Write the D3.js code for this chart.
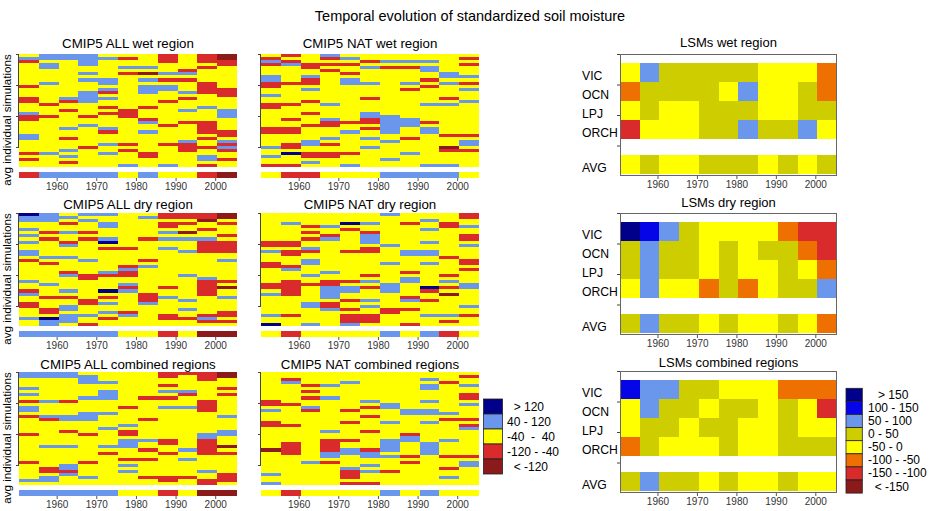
<!DOCTYPE html>
<html>
<head>
<meta charset="utf-8">
<script src="https://cdn.jsdelivr.net/npm/d3@7"></script>
<style>
body { margin: 0; background: #fff; }
svg text { font-family: "Liberation Sans", Arial, Helvetica, sans-serif; }
</style>
</head>
<body>
<svg id="chart" width="931" height="511"></svg>
<script>
// 5-year periods (1951-1955 ... 2001-2005)
var periodStarts = [1951, 1956, 1961, 1966, 1971, 1976, 1981, 1986, 1991, 1996, 2001];
var yearTicks = [1960, 1970, 1980, 1990, 2000];

// CMIP5 classes: D >120, B 40..120, Y -40..40, R -120..-40, M < -120
// one string per period, one letter per simulation (top to bottom)
var allWet = [
    "YBRYYYYYYY RYYYRRYYYB RRYYYYBBYY YYRYRYY",
    "BBYBBYYYYB YYYYYYRYYY RYYYYYYYYY YYBYYYY",
    "BBYYYYYYYY YYYYBRYYRY YYYYBYYRYY YBYBYRY",
    "BBBBYYBYBY YYBBBBYYYY RYYBYYYYYY RYYYYYY",
    "YBYYYYYYBB YBRYBYYRYR YYYYBRYYYB YYBYYYY",
    "YRYYBYRYYY YYYYYYYYRR RYYYYYYYYR YRYYYYB",
    "YYYYBYMYBY BBBYYYYRYY YRBYYBYYYY YYRRYYY",
    "RRRYYYBYRY BBYYYRYYYY YYYRYYYYYR YYYYYYB",
    "YYYYYRBYRY YYBYRYYYBY YYRYYYYYBR RRYYYYY",
    "RRRYRYYYYR RRRYYYYBYY YYRRRRYRYY RYYBBYR",
    "MMRRYYYYYY YRRRYYYYBB BYYYYRRYBR BRYYRYY"
];
var allWetAvg = "RBBBBYBYYRM";

var natWet = [
    "YRBRYYYBBR RYYBYYRRYY YYYYRRYYYY BYYBYYR",
    "RYRBYYYYYR YYYYYYRYYY YRYYRRYYYR RYDYYYR",
    "YYYRRYYBRR YBYYYRYYYR YYYRYYYYBB YYRRYBY",
    "BRYRYRYYYY YYYYYYBYYY YBRRYYYBYR YYRRYYY",
    "YBYRYYRYBB YYYYYYYYYY YYRYYBYYYY YYRYYYB",
    "YYRYBYYYYB YYYYRYYYYB BRRYRYYBYY BYYYYYY",
    "YYBYRYYYYY YYYYYYYYYY BBBBBBYYBY YYYYBYY",
    "YYBYRYYYYB YRYYYYYYYY YBBBYYYRYY YYBYYYY",
    "YYBYBBYYRY RYYYYYBYYY YYRYBBYYYY YYYYYYB",
    "YYYYYYBBYB YYYYRYBYYY YYYYYYRYYY MRYYYYB",
    "YRYRYYYBYR YBYYYBYYYY YYYYYYRYBB YRYYYYY"
];
var natWetAvg = "YRRYYYBBBBY";

var allDry = [
    "DBBYYBYBYB YYBBYRYYYY YYBYYRBYYR RYYYBYY",
    "BBBYYYRYRY YYYYBYRYYY YYYBYYYRYY YRRYDBB",
    "YBYRYYBYYR BYYYBYYYYR BYYYYBYRYY BBYBBBY",
    "BYBYYYRYRY YYYYYBYYYY RRYYYYYYRR YYYBYYR",
    "BYYBBYYYBD YRYYYYYYYB RYYYYDYRYB YYBYRYY",
    "YYYYYYYYYY YRYYYYYRBR RYYBRBYYYY YYRBYYY",
    "YBYYYYYYRY YYYYYRYBYY YYYYYYRRRB YYYYYYY",
    "RRYRRYBYBY YBYYYYYYYY YYYYRYYBYY YYYRRYY",
    "RRYRYYMYBY YYBYYYYYYY BYYYYYYYBY YBYYRYY",
    "RRMYYRYYBR RRRYYYYYYY YBRRRRRYYY YYYRBRY",
    "MMYRYYYRYR RRRYYBYYYY YYRYMYYBYY YYRRYRY"
];
var allDryAvg = "BBBBBYYRYMM";

var natDry = [
    "YYYYYYYYYR RYBYYYRRYY YYYRRYBYYY YYYBYYD",
    "YYYBYYYYYR RYRRYYYRBY YYRRRRRYYY YYYRYYY",
    "YYYYRYRYRY YBRYYBBYYY BYYRYYYYYB BYYYYYB",
    "YYYYBYYRBY YYYYYYYYYB YYRRBBBBYR RBYYYYY",
    "YYYDYRYYYY YYRYYYYYYY YYRYBBYYRY YRYRRRB",
    "YYYBYYRBBB YRRYYYYYYY RYBYRYYYBY BYYRRRY",
    "BYYYYYYYYY BYYYYYBYYY YYYBBBYYYY YRRYYYY",
    "YYYRYYYYYY YYBBYYYYYR YBBYYYYRBY YRYYYYR",
    "YYBYYBYYYB YYBBYYBYYY YYYYDRYYRY YYYBYYY",
    "YYYRRYYYYY YYYYRYYYYY RYBYRYMYYY YYYBYRY",
    "RRYYBYYRRY BYYYYRRYRY YYYBBYYYYY BYYRYYY"
];
var natDryAvg = "YRYYYYBYBRY";

var allComb = [
    "BBYYYBYBYR YBBYRYYYYY RYYYYYYYYR YYYYYBY",
    "BBYYYYYYYB YYYYBRYYYY YYYYBYYYYY YRRYBBY",
    "BBYYYYYYYR YYYYBBYYYR YYYYBYYYYY BBRBYYY",
    "YBBBYYYYBY YYYBBBYYYY RYYYYYYYYR YYYYBYY",
    "YYYBYYBBBY YYYBYYYYBY YYYYBYRYYY YYYYYYY",
    "YYYYYYYYYY YRYYYYYBYR RYBBBYYYRY BYBYYYY",
    "YYYYYYYYRY YYYYYRYYYY YYBYYRYYRY YYYYRYY",
    "RRYYRYBYRY YBYYYYYYYY YYRRYYRYYY YYYYRRY",
    "RYYYYYBRYY YBYYYYYYYY YYYYYBYYBY YYYYRYY",
    "RRRYYYYYYR RRRYYYYYYY BBRRRRRYYY YYBYYRR",
    "MMYYYRYRYY YYYYBYYYYB BYYYMYRYYY YYYRRRY"
];
var allCombAvg = "BBBBBYYRYMM";

var natComb = [
    "YYYYYYYYYR RYBYYYRRYY YYYYYMYYYY YYYBYYB",
    "YYRBYYYYYY RYYYYYYRYY YYYRRRRYYY YYYYYYY",
    "YYYYRYRYRY YBRYYYYYYY YYYYYYYYYB YYYYYYY",
    "YYYYBYYYBY YYYYYYYYYB YYRRRRBBYR YYYYYYY",
    "YYYBYYYYYY YYRYYYRYYY YYRYYBBYYY YBRRRYR",
    "YYYYYYYYYB YRYYRYYYYR YYYYYRBBYY BYBYYYR",
    "YYYYYYYYYY BBYYYYBYYY YYBBBBYBYY YYRYYYY",
    "YYYYYYYYYY YYBBYYYYYY RBBYYYYRYR YYYYYYY",
    "YYBYBBYYYB YYBBYYBYYY YYYBBBBYYY YYYYYYY",
    "YYYRYYYYYY YYYBYRYYYY YYBYYYYRYY YRYYBYY",
    "YRYYBYYRRY BYYYYRYRBY YYYYYYYRYB BYYYYYY"
];
var natCombAvg = "YRYYYYBYBYY";

// LSM classes: N >150, b 100..150, B 50..100, O 0..50, Y -50..0, o -100..-50, R -150..-100, M < -150
var lsmNames = ["VIC", "OCN", "LPJ", "ORCH", "AVG"];
var lsmWet = ["YBOOOOOYYYo", "oOOOOYBYYOo", "YOYYOOOYYOO", "RYYYOOBOOBY", "YOYYOOOYOYO"];
var lsmDry = ["NbBOYYYYoRR", "OBOOYOYOOoR", "OBOOYOYYOYo", "YBYYoOoYOOB", "OBOOYOYYOYo"];
var lsmComb = ["bBBOOYYYooo", "YBOOYOOYOYR", "YOOYOOYYOYY", "oOYYYOYYOOO", "OBOOYOYYOYY"];

var cmipCodes = ["D", "B", "Y", "R", "M"];
var cmipLabels = ["  > 120", "40 - 120", "-40  -  40", "-120 - -40", "  < -120"];
var lsmCodes = ["N", "b", "B", "O", "Y", "o", "R", "M"];
var lsmLabels = ["   > 150", "100 - 150", "50 - 100", "0 - 50", "-50 - 0", "-100 - -50", "-150 - -100", "  < -150"];

var cmipColor = d3.scaleOrdinal().domain(cmipCodes)
    .range(["#00008B", "#6A96EC", "#FFFF00", "#D92B2B", "#8B1A1A"]);
var lsmColor = d3.scaleOrdinal().domain(lsmCodes)
    .range(["#00008B", "#0505E8", "#6A96EC", "#CDCD00", "#FFFF00", "#EE7000", "#D92B2B", "#8B1A1A"]);

var svg = d3.select("#chart");

svg.append("text")
    .attr("x", 470).attr("y", 21)
    .attr("text-anchor", "middle")
    .style("font-size", "14.5px")
    .text("Temporal evolution of standardized soil moisture");

var PW = 218, PH = 124;

function xAxis(g, x, bottom) {
    var ax = g.append("g")
        .attr("transform", "translate(0," + bottom + ")")
        .call(d3.axisBottom(x).tickValues(yearTicks).tickSize(3).tickPadding(2).tickFormat(d3.format("d")));
    ax.select(".domain").remove();
    ax.selectAll("line").attr("stroke", "#555");
    ax.selectAll("text").attr("fill", "#333").style("font-size", "10px")
        .style("font-family", "'Liberation Sans', Arial, sans-serif");
}

function yTicks(g, y, x0) {
    var ax = g.append("g")
        .attr("transform", "translate(" + x0 + ",0)")
        .call(d3.axisLeft(y).tickValues([10, 20, 30, 40]).tickSize(3).tickFormat(""));
    ax.select(".domain").remove();
    ax.selectAll("line").attr("stroke", "#444");
    g.append("line")
        .attr("x1", x0 - 0.5).attr("x2", x0 - 0.5)
        .attr("y1", y(10)).attr("y2", y(40))
        .attr("stroke", "#444");
}

function cmipPanel(title, cols, avg, x0, y0, titleY, withLabel) {
    var g = svg.append("g");
    var x = d3.scaleLinear().domain([1950.5, 2005.5]).range([x0, x0 + PW]);
    var y = d3.scaleLinear().domain([0, 40]).range([y0 + PH, y0]);
    var cells = [];
    cols.forEach(function(c, i) {
        var col = c.replace(/ /g, "");
        var step = 36.5 / col.length;
        for (var r = 0; r < col.length; r++) {
            cells.push({start: periodStarts[i], top: 40 - r * step, bot: 40 - (r + 1) * step, code: col[r]});
        }
        cells.push({start: periodStarts[i], top: 2, bot: 0, code: avg[i]});
    });
    g.selectAll("rect.cell").data(cells).enter().append("rect")
        .attr("class", "cell")
        .attr("x", function(d) { return x(d.start - 0.5); })
        .attr("width", function(d) { return x(d.start + 4.5) - x(d.start - 0.5); })
        .attr("y", function(d) { return y(d.top); })
        .attr("height", function(d) { return y(d.bot) - y(d.top); })
        .attr("fill", function(d) { return cmipColor(d.code); })
        .attr("shape-rendering", "crispEdges");

    yTicks(g, y, x0);
    xAxis(g, x, y0 + PH);

    g.append("text")
        .attr("x", x0 + PW / 2).attr("y", titleY)
        .attr("text-anchor", "middle")
        .style("font-size", "13.3px")
        .text(title);

    if (withLabel) {
        g.append("text")
            .attr("transform", "translate(10.5," + (y0 + PH / 2 + 4) + ") rotate(-90)")
            .attr("text-anchor", "middle")
            .style("font-size", "11.6px")
            .text("avg individual simulations");
    }
}

var LW = 217, LH = 122;

function lsmPanel(title, rows, x0, y0, titleY) {
    var g = svg.append("g");
    var x = d3.scaleLinear().domain([1950.5, 2005.5]).range([x0, x0 + LW]);
    var y = d3.scaleLinear().domain([0, 40]).range([y0 + LH, y0]);
    // row bands in y units: four models, gap, then average
    var bands = [[30.75, 37], [24.5, 30.75], [18.25, 24.5], [12, 18.25], [0.6, 6.85]];
    var cells = [];
    rows.forEach(function(row, k) {
        for (var i = 0; i < row.length; i++) {
            cells.push({start: periodStarts[i], bot: bands[k][0], top: bands[k][1], code: row[i]});
        }
    });
    g.selectAll("rect.cell").data(cells).enter().append("rect")
        .attr("class", "cell")
        .attr("x", function(d) { return x(d.start - 0.5); })
        .attr("width", function(d) { return x(d.start + 4.5) - x(d.start - 0.5); })
        .attr("y", function(d) { return y(d.top); })
        .attr("height", function(d) { return y(d.bot) - y(d.top); })
        .attr("fill", function(d) { return lsmColor(d.code); })
        .attr("shape-rendering", "crispEdges");

    g.append("rect")
        .attr("x", x0 + 0.5).attr("y", y0 + 0.5)
        .attr("width", LW - 1).attr("height", LH - 1)
        .attr("fill", "none").attr("stroke", "#666");

    var ax = g.append("g")
        .attr("transform", "translate(" + x0 + ",0)")
        .call(d3.axisLeft(y).tickValues([10, 20, 30, 40]).tickSize(3).tickFormat(""));
    ax.select(".domain").remove();
    ax.selectAll("line").attr("stroke", "#444");
    xAxis(g, x, y0 + LH);

    g.selectAll("text.rowname").data(lsmNames).enter().append("text")
        .attr("class", "rowname")
        .attr("x", 582)
        .attr("y", function(d, k) { return y((bands[k][0] + bands[k][1]) / 2) + 7.3; })
        .style("font-size", "12.2px")
        .text(function(d) { return d; });

    g.append("text")
        .attr("x", x0 + LW / 2).attr("y", titleY)
        .attr("text-anchor", "middle")
        .style("font-size", "13px")
        .text(title);
}

cmipPanel("CMIP5 ALL wet region", allWet, allWetAvg, 19, 54, 47.5, true);
cmipPanel("CMIP5 NAT wet region", natWet, natWetAvg, 261, 54, 47.5, false);
cmipPanel("CMIP5 ALL dry region", allDry, allDryAvg, 19, 213, 208.5, true);
cmipPanel("CMIP5 NAT dry region", natDry, natDryAvg, 261, 213, 208.5, false);
cmipPanel("CMIP5 ALL combined regions", allComb, allCombAvg, 19, 372, 368.5, true);
cmipPanel("CMIP5 NAT combined regions", natComb, natCombAvg, 261, 372, 368.5, false);

lsmPanel("LSMs wet region", lsmWet, 620, 54, 47.3);
lsmPanel("LSMs dry region", lsmDry, 620, 213, 206.7);
lsmPanel("LSMs combined regions", lsmComb, 620, 371, 366.7);

function legend(codes, labels, color, bx, by, bw, bh, tx) {
    var g = svg.append("g");
    var y = d3.scaleBand().domain(codes).range([by, by + bh * codes.length]);
    g.selectAll("rect").data(codes).enter().append("rect")
        .attr("x", bx).attr("y", function(d) { return y(d); })
        .attr("width", bw).attr("height", y.bandwidth())
        .attr("fill", function(d) { return color(d); })
        .attr("stroke", "#222").attr("stroke-width", 0.8);
    g.selectAll("text").data(codes).enter().append("text")
        .attr("x", tx)
        .attr("y", function(d) { return y(d) + y.bandwidth() / 2 + 4; })
        .style("font-size", "12px")
        .style("white-space", "pre")
        .text(function(d, i) { return labels[i]; });
}

legend(cmipCodes, cmipLabels, cmipColor, 483.5, 399, 19, 15, 507);
legend(lsmCodes, lsmLabels, lsmColor, 846, 388.3, 16.3, 13.1, 868);
</script>
</body>
</html>
